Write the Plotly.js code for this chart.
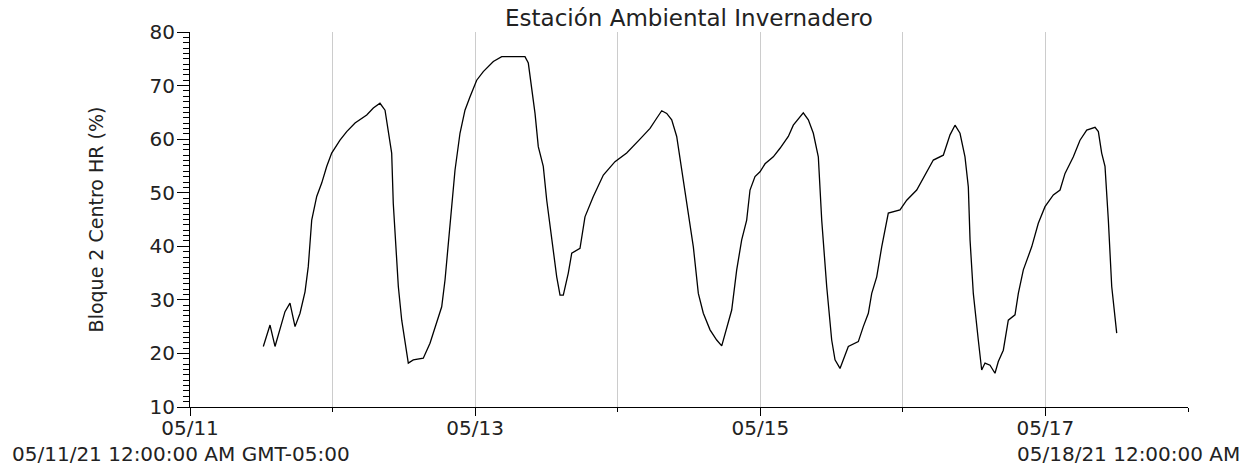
<!DOCTYPE html>
<html><head><meta charset="utf-8">
<script src="https://cdn.plot.ly/plotly-3.0.1.min.js"></script>
<style>html,body{margin:0;padding:0;background:#fff}#chart{width:1255px;height:467px}</style>
</head><body><div id="chart"></div>
<script>
// ---- data ----
const startDay = [2021, 4, 11]; // 2021-05-11 00:00
const hoursSinceStart = [12.34,13.47,14.31,15.44,15.99,16.83,17.68,18.52,19.36,19.91,20.49,21.33,22.17,23.01,23.85,25.25,26.38,27.78,29.75,30.86,31.98,32.83,33.38,33.95,34.22,34.51,35.07,35.64,36.19,36.75,37.59,39.27,40.40,41.53,42.37,42.93,43.48,44.05,44.61,45.45,46.29,47.14,48.26,49.37,51.06,52.47,56.39,56.95,57.52,58.08,58.63,59.47,60.05,60.89,61.73,62.29,62.84,63.68,64.26,65.65,66.49,67.89,69.58,71.54,73.51,75.75,77.44,78.56,79.41,80.25,81.09,81.93,82.77,83.61,84.73,85.57,86.41,87.54,88.66,89.51,90.35,91.19,92.03,92.87,93.71,94.27,95.11,95.95,96.80,98.19,99.32,100.72,101.56,102.69,103.24,104.09,104.93,105.77,106.34,107.18,108.02,108.58,109.42,110.82,112.50,113.34,114.19,114.76,115.60,116.44,117.55,119.52,120.65,122.33,123.73,125.13,126.81,127.94,128.78,129.62,130.46,131.02,131.31,131.86,132.70,133.27,133.83,134.67,135.51,136.07,136.91,137.75,138.88,139.44,140.28,141.69,142.80,143.93,145.33,146.46,147.30,148.70,149.82,150.95,152.35,152.91,153.47,154.03,154.59,155.16,156.00];
const humidity = [21.3,25.3,21.3,25.6,27.8,29.4,25.0,27.5,31.5,36.2,44.9,49.3,51.8,54.9,57.4,59.8,61.4,63.0,64.5,65.8,66.7,65.4,61.7,57.4,48.0,41.8,32.5,26.2,21.9,18.2,18.8,19.1,21.9,25.6,28.7,33.7,40.6,47.4,54.2,61.1,65.4,67.9,71.0,72.6,74.5,75.4,75.4,74.2,69.8,64.8,58.6,54.9,48.6,41.2,34.3,30.9,30.9,35.0,38.7,39.6,45.5,49.3,53.3,55.8,57.4,60.0,62.0,63.9,65.3,64.8,63.6,60.5,54.2,48.0,39.9,31.2,27.5,24.4,22.5,21.4,25.0,28.1,35.6,41.2,44.9,50.5,53.0,53.9,55.4,56.7,58.3,60.5,62.6,64.2,64.9,63.6,61.1,56.7,44.9,32.5,22.5,18.8,17.2,21.3,22.2,25.0,27.5,31.2,34.3,39.9,46.2,46.8,48.6,50.5,53.3,56.1,57.0,60.8,62.6,61.1,56.7,51.1,41.2,31.2,22.5,16.9,18.2,17.8,16.3,18.5,20.6,26.2,27.2,31.2,35.6,39.9,44.3,47.4,49.6,50.5,53.6,56.7,59.8,61.7,62.2,61.4,57.4,54.9,44.9,32.5,23.8];
const xRange = ['2021-05-11', '2021-05-18'];
const tickDates = ['2021-05-11', '2021-05-13', '2021-05-15', '2021-05-17'];
const tickLabels = ['05/11', '05/13', '05/15', '05/17'];
const gridDates = ['2021-05-12', '2021-05-13', '2021-05-14', '2021-05-15', '2021-05-16', '2021-05-17'];
const yRange = [10, 80];
const yMajorStep = 10;
const yMinorStep = 1;
const chartTitle = 'Estación Ambiental Invernadero';
const yTitle = 'Bloque 2 Centro HR (%)';
const startLabel = '05/11/21 12:00:00 AM GMT-05:00';
const endLabel = '05/18/21 12:00:00 AM';

// ---- build ----
function toDateStr(h) {
  const ms = Date.UTC(startDay[0], startDay[1], startDay[2]) + Math.round(h * 3600000);
  return new Date(ms).toISOString().replace('T', ' ').slice(0, 19);
}
const times = hoursSinceStart.map(toDateStr);

const FONT = 'DejaVu Sans, Liberation Sans, Arial, sans-serif';
const TXT = '#222222';

const traces = [
  {
    type: 'scatter', mode: 'lines', x: times, y: humidity,
    line: {color: '#000000', width: 1.3},
    hoverinfo: 'x+y', showlegend: false
  },
  {
    type: 'scatter', mode: 'lines', x: [], y: [], xaxis: 'x2', yaxis: 'y',
    showlegend: false, hoverinfo: 'skip'
  }
];

const layout = {
  width: 1255, height: 467,
  margin: {l: 190, r: 67, t: 32, b: 60, pad: 0},
  paper_bgcolor: '#ffffff', plot_bgcolor: '#ffffff',
  font: {family: FONT, size: 20, color: TXT},
  showlegend: false,
  title: {
    text: chartTitle, x: 0.5, xref: 'paper', xanchor: 'center',
    y: 1 - 18 / 467, yref: 'container', yanchor: 'middle',
    font: {family: FONT, size: 23, color: TXT}
  },
  xaxis: {
    type: 'date', range: xRange, autorange: false,
    tickmode: 'array', tickvals: tickDates, ticktext: tickLabels,
    ticks: 'outside', ticklen: 8, tickwidth: 1, tickcolor: '#000',
    showline: true, linecolor: '#000', linewidth: 1,
    showgrid: false, zeroline: false,
    tickfont: {family: FONT, size: 20, color: TXT},
    ticklabelstandoff: -5,
    minor: {dtick: 86400000, tick0: '2021-05-11', ticks: 'outside', ticklen: 4, tickwidth: 1, tickcolor: '#000', showgrid: false},
    fixedrange: true
  },
  xaxis2: {
    type: 'date', range: xRange, autorange: false, overlaying: 'x', anchor: 'y', side: 'bottom',
    tickmode: 'array', tickvals: gridDates, showticklabels: false, ticks: '',
    showgrid: true, gridcolor: '#cccccc', gridwidth: 1,
    showline: false, zeroline: false, fixedrange: true
  },
  yaxis: {
    range: yRange, autorange: false,
    tickmode: 'linear', tick0: yRange[0], dtick: yMajorStep,
    ticks: 'outside', ticklen: 12, tickwidth: 1, tickcolor: '#000',
    showline: true, linecolor: '#000', linewidth: 1,
    showgrid: false, zeroline: false,
    tickfont: {family: FONT, size: 20, color: TXT},
    ticklabelstandoff: -2,
    minor: {tickmode: 'linear', tick0: 0, dtick: yMinorStep, ticks: 'outside', ticklen: 6, tickwidth: 1, tickcolor: '#000', showgrid: false},
    title: {text: yTitle, font: {family: FONT, size: 19, color: TXT}, standoff: 40},
    fixedrange: true
  },
  annotations: [
    {text: startLabel, xref: 'paper', yref: 'paper', x: (10 - 190) / 998, y: (407 - 454) / 375,
     xanchor: 'left', yanchor: 'middle', showarrow: false, font: {family: FONT, size: 20, color: TXT}},
    {text: endLabel, xref: 'paper', yref: 'paper', x: (1242 - 190) / 998, y: (407 - 454) / 375,
     xanchor: 'right', yanchor: 'middle', showarrow: false, font: {family: FONT, size: 20, color: TXT}}
  ]
};

Plotly.newPlot('chart', traces, layout, {displayModeBar: false, staticPlot: true});
</script>
</body></html>
